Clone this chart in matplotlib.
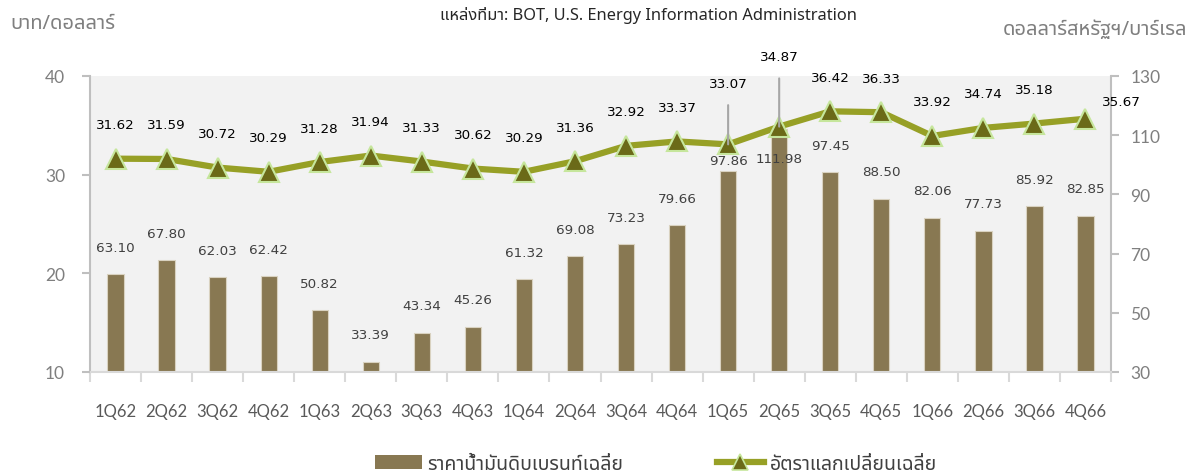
import matplotlib
matplotlib.use("Agg")
import matplotlib.pyplot as plt
from matplotlib import font_manager
from matplotlib.patches import Patch
from matplotlib.lines import Line2D
from matplotlib.ticker import FixedLocator

categories = ["1Q62", "2Q62", "3Q62", "4Q62", "1Q63", "2Q63", "3Q63", "4Q63",
              "1Q64", "2Q64", "3Q64", "4Q64", "1Q65", "2Q65", "3Q65", "4Q65",
              "1Q66", "2Q66", "3Q66", "4Q66"]
brent_price = [63.10, 67.80, 62.03, 62.42, 50.82, 33.39, 43.34, 45.26,
               61.32, 69.08, 73.23, 79.66, 97.86, 111.98, 97.45, 88.50,
               82.06, 77.73, 85.92, 82.85]
exchange_rate = [31.62, 31.59, 30.72, 30.29, 31.28, 31.94, 31.33, 30.62,
                 30.29, 31.36, 32.92, 33.37, 33.07, 34.87, 36.42, 36.33,
                 33.92, 34.74, 35.18, 35.67]
left_ticks = [10, 20, 30, 40]
right_ticks = [30, 50, 70, 90, 110, 130]

bar_label = "ราคาน้ำมันดิบเบรนท์เฉลี่ย"
line_label = "อัตราแลกเปลี่ยนเฉลี่ย"
source_text = "แหล่งที่มา: BOT, U.S. Energy Information Administration"
left_unit = "บาท/ดอลลาร์"
right_unit = "ดอลลาร์สหรัฐฯ/บาร์เรล"


def find_thai_font():
    try:
        from fontTools.ttLib import TTFont
    except Exception:
        return None
    prefs = ["Noto Sans Thai", "Noto Sans Thai UI", "Noto Sans", "DejaVu Sans"]
    found = {}
    for f in font_manager.fontManager.ttflist:
        try:
            tt = TTFont(f.fname, fontNumber=0, lazy=True)
            cmap = tt.getBestCmap()
            if cmap and 0x0E32 in cmap and 0x0E49 in cmap:
                found.setdefault(f.name, f.fname)
        except Exception:
            pass
    for p in prefs:
        if p in found:
            return p
    if found:
        return sorted(found)[0]
    return None


thai = find_thai_font()
thai_family = [thai, "DejaVu Sans"] if thai else ["DejaVu Sans"]

plt.rcParams['font.family'] = ['DejaVu Sans']

W, H = 1192, 477
fig = plt.figure(figsize=(W / 100, H / 100), dpi=100)
L, R, T, B = 90, 1111, 77, 373
ax2 = fig.add_axes([L / W, 1 - B / H, (R - L) / W, (B - T) / H])
ax = ax2.twinx()
ax.set_zorder(ax2.get_zorder() + 1)
ax.patch.set_visible(False)
ax2.set_facecolor("#f2f2f2")

x = list(range(len(categories)))

# bars on right scale
ax2.bar(x, brent_price, width=0.32, color="#887852", edgecolor="#d9d2c0",
        linewidth=0.8, zorder=2)
ax2.set_ylim(30, 130)
ax2.set_xlim(-0.5, len(categories) - 0.5)

# line on left scale
ax.plot(x, exchange_rate, color="#97a026", linewidth=4.5, marker="^",
        markersize=15, markerfacecolor="#6b6a18", markeredgecolor="#c6e69c",
        markeredgewidth=1.5, zorder=3, solid_capstyle="round")
ax.set_ylim(10, 40)

# axis styling
spine_c = "#bfbfbf"
for a in (ax, ax2):
    for s in a.spines.values():
        s.set_visible(False)
ax2.spines["bottom"].set_visible(True)
ax2.spines["bottom"].set_color("#d9d9d9")
ax2.spines["bottom"].set_linewidth(1.5)
ax2.spines["left"].set_visible(True)
ax2.spines["left"].set_color(spine_c)
ax2.spines["left"].set_linewidth(1.5)
ax2.spines["right"].set_visible(True)
ax2.spines["right"].set_color(spine_c)
ax2.spines["right"].set_linewidth(1.5)

ax.yaxis.set_label_position("left")
ax.yaxis.tick_left()
ax.set_yticks(left_ticks)
ax.tick_params(axis="y", which="major", length=6, width=1.5, color=spine_c,
               labelsize=12.5, labelcolor="#7f7f7f", pad=12)
ax2.yaxis.tick_right()
ax2.set_yticks(right_ticks)
ax2.tick_params(axis="y", which="major", length=6, width=1.5, color=spine_c,
                labelsize=12.5, labelcolor="#7f7f7f", pad=8)
for lab in ax.get_yticklabels() + ax2.get_yticklabels():
    lab.set_fontfamily("Lato")

ax2.set_xticks(x)
ax2.set_xticklabels(categories, fontfamily="Lato", fontsize=12, color="#595959")
ax2.tick_params(axis="x", which="major", length=0, pad=22)
ax2.xaxis.set_minor_locator(FixedLocator([i - 0.5 for i in range(len(categories) + 1)]))
ax2.tick_params(axis="x", which="minor", length=7, width=1.5, color="#d9d9d9")
ax.tick_params(axis="x", which="both", length=0, labelbottom=False)

# bar labels
bar_offsets = {12: (0, 11), 13: (0, -29)}
for i, v in enumerate(brent_price):
    dx, dy = bar_offsets.get(i, (0, 27))
    ax2.annotate(f"{v:.2f}", (i, v), xytext=(dx * 0.72, dy * 0.72),
                 textcoords="offset points", ha="center", va="center",
                 fontsize=9.7, color="#404040", zorder=5)

# line labels
line_offsets = {19: (36, 17)}
for i, v in enumerate(exchange_rate):
    if i in (12, 13):
        dy = 61 if i == 12 else 70
        ax.annotate(f"{v:.2f}", (i, v), xytext=(0, dy * 0.72),
                    textcoords="offset points", ha="center", va="center",
                    fontsize=9.7, color="#000000",
                    arrowprops=dict(arrowstyle="-", color="#a6a6a6", lw=1.5,
                                    shrinkA=9, shrinkB=0), zorder=6,
                    annotation_clip=False)
    else:
        dx, dy = line_offsets.get(i, (0, 34))
        ax.annotate(f"{v:.2f}", (i, v), xytext=(dx * 0.72, dy * 0.72),
                    textcoords="offset points", ha="center", va="center",
                    fontsize=9.7, color="#000000", zorder=6)

# header texts
fig.text(648 / W, 1 - 16 / H, source_text, ha="center", va="center",
         fontsize=11.8, style="italic", color="#262626", family=thai_family)
fig.text(10 / W, 1 - 24 / H, left_unit, ha="left", va="center",
         fontsize=14.5, style="italic", color="#7f7f7f", family=thai_family)
fig.text(1187 / W, 1 - 30 / H, right_unit, ha="right", va="center",
         fontsize=14.5, style="italic", color="#7f7f7f", family=thai_family)

# legend
handles = [Patch(facecolor="#887852", edgecolor="none", label=bar_label),
           Line2D([0], [0], color="#97a026", linewidth=4.5, marker="^",
                  markersize=12, markerfacecolor="#6b6a18",
                  markeredgecolor="#c6e69c", markeredgewidth=1.2, label=line_label)]
leg = fig.legend(handles=handles, loc="center", bbox_to_anchor=(656 / W, 1 - 465 / H),
                 ncol=2, frameon=False, columnspacing=4.8, handlelength=2.4,
                 handletextpad=0.3, borderpad=0, borderaxespad=0,
                 prop={"family": thai_family, "size": 14})
for t in leg.get_texts():
    t.set_color("#404040")

fig.savefig("out.png", dpi=100)
